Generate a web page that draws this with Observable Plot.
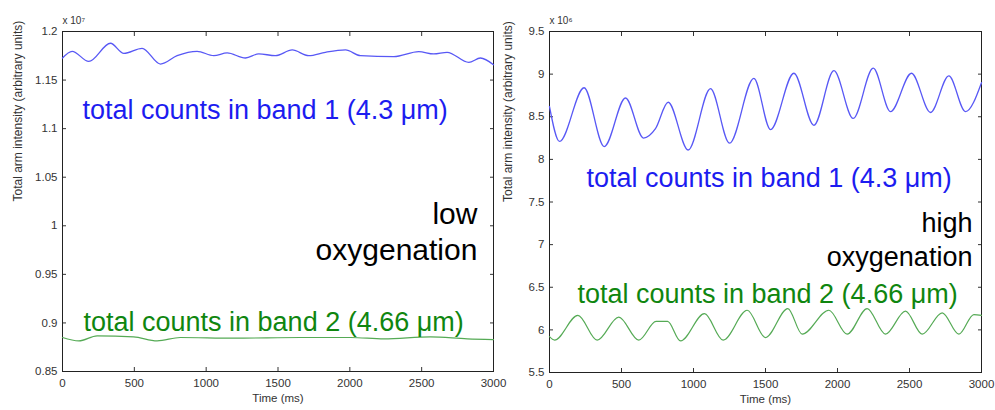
<!DOCTYPE html>
<html><head><meta charset="utf-8">
<script src="https://cdn.jsdelivr.net/npm/d3@7"></script>
<script src="https://cdn.jsdelivr.net/npm/@observablehq/plot@0.6"></script>
<style>
body{margin:0;background:#fff;}
#wrap{position:relative;width:995px;height:410px;overflow:hidden;background:#fff;}
#left,#right{position:absolute;top:0;}
#left{left:0;} #right{left:499px;}
#wrap svg{overflow:hidden;}
</style></head><body>
<div id="wrap"><div id="left"></div><div id="right"></div></div>
<script>
// ---- data (time in ms) ----
const xTicks = [0, 500, 1000, 1500, 2000, 2500, 3000];

// Low oxygenation panel (values in units of 1e7)
const lowYTicks = [0.85, 0.9, 0.95, 1, 1.05, 1.1, 1.15, 1.2];
const lowTimeB1 = [0,67,183,334,427,554,682,798,937,1053,1146,1274,1366,1482,1599,1714,1830,1970,2074,2306,2480,2584,2677,2828,2909,3000];
const lowBand1 = [1.1727,1.1796,1.1692,1.1879,1.1775,1.1827,1.1665,1.1751,1.1796,1.1751,1.1779,1.1727,1.177,1.1751,1.181,1.1751,1.1786,1.181,1.1751,1.1741,1.1793,1.1769,1.1786,1.1682,1.1727,1.1658];
const lowTimeB2 = [0,114,241,495,659,820,1192,1657,2005,2237,2561,2817,3000];
const lowBand2 = [0.885,0.8815,0.8867,0.8856,0.8815,0.885,0.8843,0.885,0.885,0.8836,0.8857,0.8836,0.8829];

// High oxygenation panel (values in units of 1e6)
const highYTicks = [5.5, 6, 6.5, 7, 7.5, 8, 8.5, 9, 9.5];
const highTimeB1 = [0,70,240,380,528,653,736,824,963,1118,1250,1419,1535,1697,1836,1975,2109,2248,2368,2514,2646,2773,2889,3000];
const highBand1 = [8.62,8.21,8.84,8.15,8.72,8.25,8.36,8.67,8.11,8.83,8.19,8.95,8.35,9.01,8.40,9.04,8.48,9.07,8.56,9.01,8.55,8.98,8.56,8.90];
const highTimeB2 = [0,35,197,331,481,620,740,820,910,1076,1206,1373,1500,1655,1755,1940,2067,2206,2333,2472,2588,2727,2843,2947,3000];
const highBand2 = [5.92,5.88,6.17,5.88,6.15,5.88,6.10,6.10,5.87,6.19,5.88,6.23,5.91,6.25,5.95,6.23,5.95,6.25,5.95,6.22,5.95,6.20,5.95,6.18,6.17];

const band1Label = "total counts in band 1 (4.3 \u03bcm)";
const band2Label = "total counts in band 2 (4.66 \u03bcm)";
const yLabel = "Total arm intensity (arbitrary units)";
const xLabel = "Time (ms)";

const BLUE_LINE = "#5858f5", GREEN_LINE = "#55aa55";
const BLUE_TEXT = "#1c1cf0", GREEN_TEXT = "#0f860f";
const FONT = "'Liberation Sans', Arial, sans-serif";

function rows(t, v) { return t.map((x, i) => ({t: x, v: v[i]})); }
const fmt = d => String(+d.toFixed(2));

function panel(o) {
  const hide = () => "";
  return Plot.plot({
    width: o.width, height: 410,
    marginLeft: o.marginLeft, marginRight: o.marginRight, marginTop: 31, marginBottom: o.marginBottom,
    x: {domain: [0, 3000]},
    y: {domain: o.yDomain},
    style: {fontFamily: FONT, fontSize: "11.5px", color: "#333", background: o.bg},
    marks: [
      Plot.axisX({anchor: "bottom", ticks: xTicks, tickSize: 0, tickPadding: 7, label: null, tickFormat: d => String(d)}),
      Plot.axisX({anchor: "bottom", ticks: xTicks, tickSize: 4, dy: -4, label: null, tickFormat: hide}),
      Plot.axisX({anchor: "top", ticks: xTicks, tickSize: 4, dy: 4, label: null, tickFormat: hide}),
      Plot.axisY({anchor: "left", ticks: o.yTicks, tickSize: 0, tickPadding: 5, label: null, tickFormat: fmt}),
      Plot.axisY({anchor: "left", ticks: o.yTicks, tickSize: 4, dx: 4, label: null, tickFormat: hide}),
      Plot.axisY({anchor: "right", ticks: o.yTicks, tickSize: 4, dx: -4, label: null, tickFormat: hide}),
      Plot.frame({stroke: "#222", strokeWidth: 1}),
      Plot.line(rows(o.t1, o.v1), {x: "t", y: "v", stroke: BLUE_LINE, strokeWidth: 1.3, curve: "monotone-x"}),
      Plot.line(rows(o.t2, o.v2), {x: "t", y: "v", stroke: GREEN_LINE, strokeWidth: 1.2, curve: "monotone-x"}),
      Plot.text([xLabel], {frameAnchor: "bottom", dy: 30, lineAnchor: "bottom", fontSize: 11.5, fill: "#333"}),
      Plot.text([yLabel], {frameAnchor: "left", rotate: -90, dx: o.yLabelDx, fontSize: 12, fill: "#333"}),
      Plot.text([o.exponent], {frameAnchor: "top-left", dy: -8, textAnchor: "start", lineAnchor: "bottom", fontSize: 10, fill: "#333"}),
      ...o.notes.map(n => Plot.text([n.text], {x: n.x, y: n.y, textAnchor: n.anchor, lineAnchor: "bottom", fontSize: n.size, fill: n.color, lineHeight: n.lh || 1.2}))
    ]
  });
}

document.getElementById("left").append(panel({
  width: 508, marginLeft: 62, marginRight: 15, marginBottom: 39, bg: "white",
  yDomain: [0.85, 1.2], yTicks: lowYTicks,
  t1: lowTimeB1, v1: lowBand1, t2: lowTimeB2, v2: lowBand2,
  exponent: "x 10\u2077", yLabelDx: -44,
  notes: [
    {text: band1Label, x: 139, y: 1.1098, anchor: "start", size: 27, color: BLUE_TEXT},
    {text: band2Label, x: 146, y: 0.892, anchor: "start", size: 27, color: GREEN_TEXT},
    {text: "low\noxygenation", x: 2888, y: 0.9648, anchor: "end", size: 30, color: "#000", lh: 1.2}
  ]
}));

document.getElementById("right").append(panel({
  width: 496, marginLeft: 50, marginRight: 14, marginBottom: 38, bg: "transparent",
  yDomain: [5.5, 9.5], yTicks: highYTicks,
  t1: highTimeB1, v1: highBand1, t2: highTimeB2, v2: highBand2,
  exponent: "x 10\u2076", yLabelDx: -41,
  notes: [
    {text: band1Label, x: 257, y: 7.68, anchor: "start", size: 27, color: BLUE_TEXT},
    {text: band2Label, x: 194, y: 6.317, anchor: "start", size: 27, color: GREEN_TEXT},
    {text: "high\noxygenation", x: 2937, y: 6.753, anchor: "end", size: 27, color: "#000", lh: 1.26}
  ]
}));
</script>
</body></html>
